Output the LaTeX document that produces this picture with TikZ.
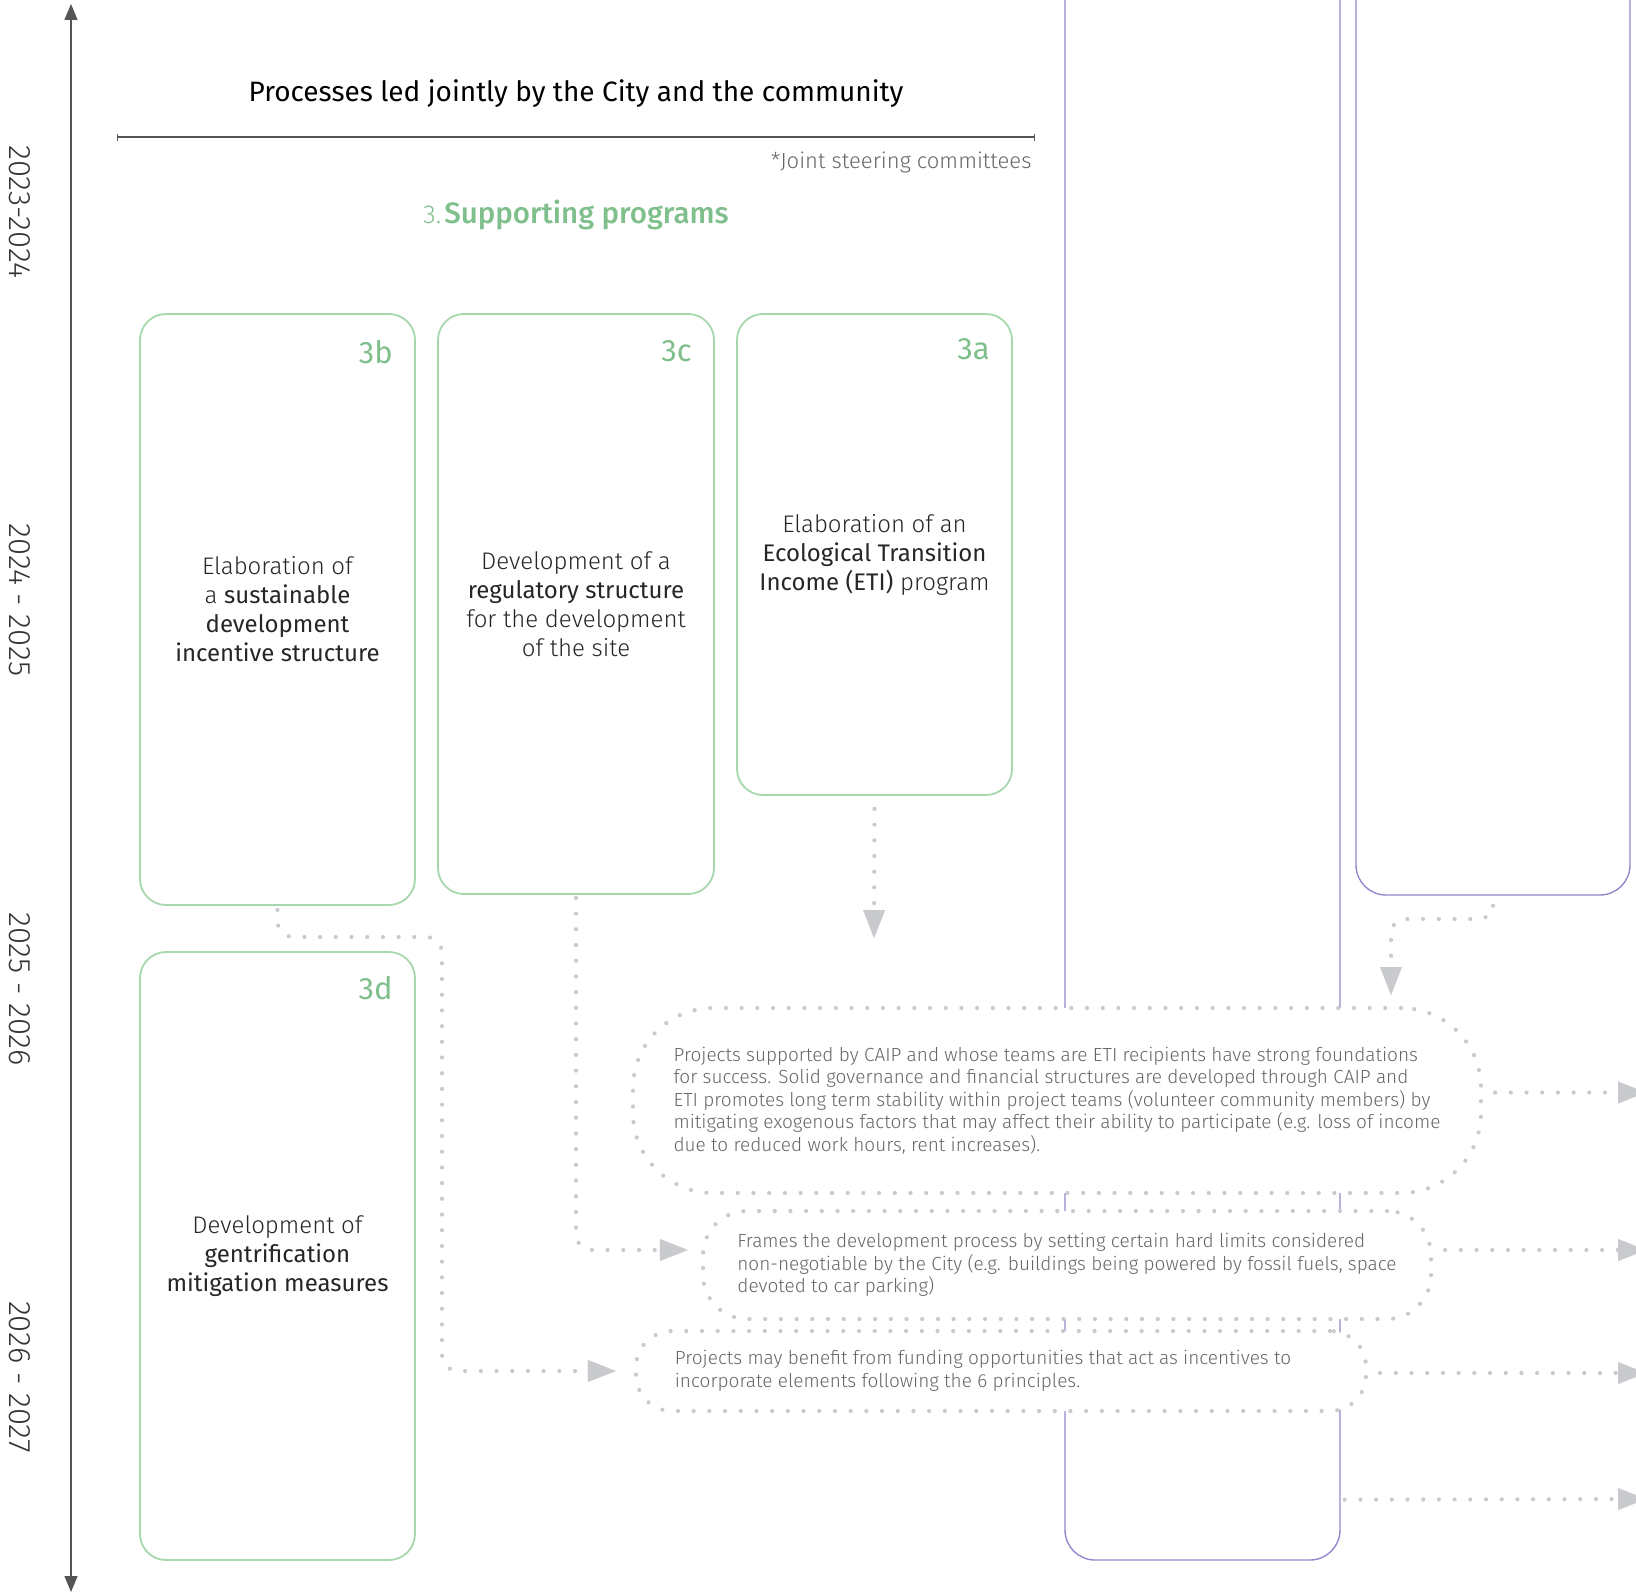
\documentclass[tikz,border=0pt]{standalone}
\usepackage{fontspec}
\setmainfont{Fira Sans Light}[BoldFont={Fira Sans}]
\newfontfamily\medfont{Fira Sans Medium}
\usetikzlibrary{arrows.meta,positioning}

\definecolor{progGreen}{HTML}{A6D7AD}
\definecolor{tagGreen}{HTML}{7FBF8B}
\definecolor{cityPurple}{HTML}{8E8ACB}
\definecolor{dotGray}{HTML}{C9CACE}
\definecolor{noteGray}{HTML}{666666}
\definecolor{axisGray}{HTML}{555555}

\tikzset{
  progbox/.style={draw=progGreen, line width=1.8pt, rounded corners=26pt,
    minimum width=275pt, inner sep=0pt, align=center, text=black!85,
    font=\fontsize{24}{29}\selectfont},
  tag/.style={text=tagGreen, inner sep=0pt, font=\fontsize{31}{32}\selectfont\bfseries},
  citybox/.style={draw=cityPurple, line width=1.4pt, rounded corners=30pt,
    minimum width=275pt, inner sep=0pt},
  dotline/.style={draw=dotGray, line width=4.2pt, line cap=round,
    dash pattern=on 0pt off 15.7pt},
  dotbox/.style={dotline, fill=white, align=left, text=noteGray,
    font=\fontsize{19}{22.6}\selectfont, inner sep=0pt},
  dotarrow/.style={dotline, -{Triangle[length=28pt, width=22pt, line width=0.1pt]}},
  year/.style={rotate=-90, text=black!80, font=\fontsize{31}{31}\selectfont},
}

\begin{document}
\begin{tikzpicture}[x=1pt, y=-1pt]
  \useasboundingbox (0,0) rectangle (1636,1595);
  \clip (0,0) rectangle (1636,1595);

  % time axis
  \coordinate (axisTop) at (71,4);
  \coordinate (axisBot) at (71,1592);
  \draw [axisGray, line width=1.3pt,
    {Triangle[length=16pt, width=13pt]}-{Triangle[length=16pt, width=13pt]}]
    (axisTop) -- (axisBot);
  \node[year] (y1) at (20,212) {2023-2024};
  \node[year] (y2) at (20,600) {2024 - 2025};
  \node[year] (y3) at (20,989) {2025 - 2026};
  \node[year] (y4) at (20,1377) {2026 - 2027};

  % heading
  \node[font=\fontsize{28}{30}\selectfont\bfseries] (title) at (576,94)
    {Processes led jointly by the City and the community};
  \coordinate (ruleL) at (117,137);
  \coordinate (ruleR) at (1035,137);
  \draw [axisGray, line width=1.2pt, {Bar[width=7pt]}-{Bar[width=7pt]}] (ruleL) -- (ruleR);
  \node[anchor=east, text=noteGray, font=\fontsize{22}{24}\selectfont] (steer) at (1035,162)
    {*Joint steering committees};
  \node[text=tagGreen] (sect) at (576,215)
    {{\fontsize{26}{28}\selectfont 3.}\kern3pt{\fontsize{29.5}{32}\medfont Supporting programs}};

  % city columns
  \node[citybox, minimum height=1620pt] (cityA) at (1202.5,750) {};
  \node[citybox, minimum width=274pt, minimum height=955pt] (cityB) at (1493,417.5) {};

  % supporting programs
  \node[progbox, minimum height=591pt] (p3b) at (277.5,609.5)
    {Elaboration of\\a \textbf{sustainable}\\\textbf{development}\\\textbf{incentive structure}};
  \node[progbox, minimum width=276pt, minimum height=580pt] (p3c) at (576,604)
    {Development of a\\\textbf{regulatory structure}\\for the development\\of the site};
  \node[progbox, minimum height=481pt] (p3a) at (874.5,554.5)
    {Elaboration of an\\\textbf{Ecological Transition}\\\textbf{Income (ETI)} program};
  \node[progbox, minimum height=608pt] (p3d) at (277.5,1256)
    {Development of\\\textbf{gentrification}\\\textbf{mitigation measures}};

  \node[tag, below left=27pt and 23pt of p3b.north east] (t3b) {3b};
  \node[tag, below left=27pt and 23pt of p3c.north east] (t3c) {3c};
  \node[tag, below left=25pt and 23pt of p3a.north east] (t3a) {3a};
  \node[tag, below left=25pt and 23pt of p3d.north east] (t3d) {3d};

  % outcomes
  \node[dotbox, minimum width=848pt, minimum height=185pt, rounded corners=80pt] (ben) at (1057,1100.5)
    {Projects supported by CAIP and whose teams are ETI recipients have strong foundations\\
     for success. Solid governance and financial structures are developed through CAIP and\\
     ETI promotes long term stability within project teams (volunteer community members) by\\
     mitigating exogenous factors that may affect their ability to participate (e.g. loss of income\\
     due to reduced work hours, rent increases).};
  \node[dotbox, minimum width=728pt, minimum height=108pt, rounded corners=44pt] (frame) at (1067,1265)
    {Frames the development process by setting certain hard limits considered\\
     non-negotiable by the City (e.g. buildings being powered by fossil fuels, space\\
     devoted to car parking)};
  \node[dotbox, minimum width=730pt, minimum height=80pt, rounded corners=36pt] (fund) at (1001,1371)
    {Projects may benefit from funding opportunities that act as incentives to\hspace*{36pt}\\
     incorporate elements following the 6 principles.};

  % links
  \coordinate (aTip) at (874,938);
  \coordinate (bTip) at (1391,995);
  \draw [dotarrow, shorten <=13pt] (p3a.south) -- (aTip);
  \draw [dotarrow, rounded corners=14pt] ([yshift=-10pt]cityB.south) |- (1391,919) -- (bTip);
  \draw [dotarrow, rounded corners=16pt] ([yshift=-3pt]p3c.south) |- ([xshift=-13pt,yshift=15pt]frame.west);
  \draw [dotarrow, rounded corners=16pt] ([yshift=-4pt]p3b.south) |- (442,937) |- ([xshift=-18pt]fund.west);

  \coordinate (out1) at (1646,1092.5);
  \coordinate (out2) at (1646,1250);
  \coordinate (out3) at (1646,1373);
  \coordinate (out4) at (1646,1499);
  \draw [dotarrow, shorten <=12pt] ([yshift=8pt]ben.east) -- (out1);
  \draw [dotarrow, shorten <=12pt] ([yshift=15pt]frame.east) -- (out2);
  \draw [dotarrow, shorten <=12pt] ([yshift=-2pt]fund.east) -- (out3);
  \draw [dotarrow, shorten <=4pt] ([yshift=61pt]cityA.south east) -- (out4);
\end{tikzpicture}
\end{document}
